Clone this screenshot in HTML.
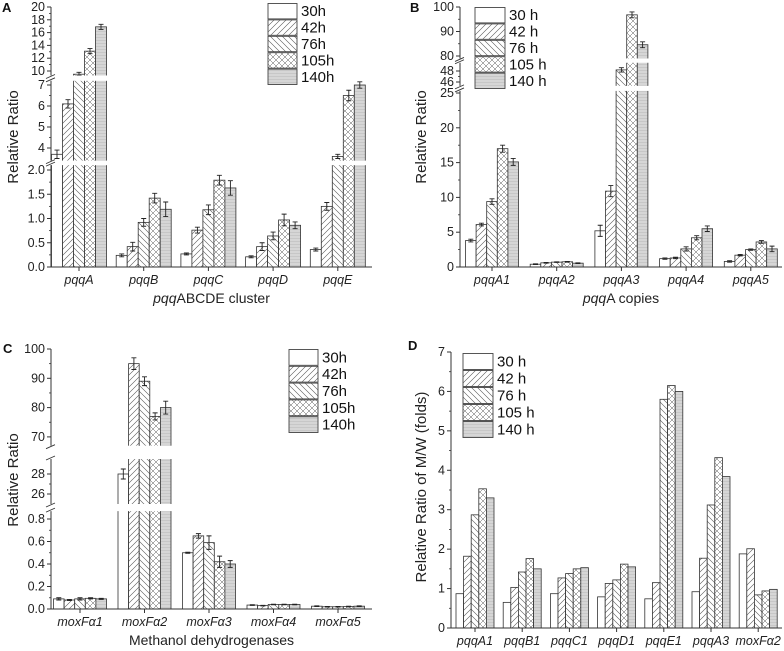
<!DOCTYPE html>
<html><head><meta charset="utf-8"><style>
html,body{margin:0;padding:0;background:#fff;}
svg{display:block;font-family:"Liberation Sans",Arial,sans-serif;}
</style></head><body>
<svg id="fig" width="784" height="651" viewBox="0 0 784 651" xmlns="http://www.w3.org/2000/svg">
<defs>
<pattern id="p42" patternUnits="userSpaceOnUse" width="6" height="6"><rect width="6" height="6" fill="#fff"/><path d="M-1,7 L7,-1 M-4,4 L4,-4 M2,10 L10,2" stroke="#555" stroke-width="0.6"/></pattern>
<pattern id="p76" patternUnits="userSpaceOnUse" width="6" height="6"><rect width="6" height="6" fill="#fff"/><path d="M-1,-1 L7,7 M-4,2 L4,10 M2,-4 L10,4" stroke="#555" stroke-width="0.6"/></pattern>
<pattern id="p105" patternUnits="userSpaceOnUse" width="6" height="6"><rect width="6" height="6" fill="#fff"/><path d="M-1,7 L7,-1 M-4,4 L4,-4 M2,10 L10,2 M-1,-1 L7,7 M-4,2 L4,10 M2,-4 L10,4" stroke="#555" stroke-width="0.5"/></pattern>
<pattern id="p140" patternUnits="userSpaceOnUse" width="4" height="3"><rect width="4" height="3" fill="#d6d6d6"/><path d="M0,1.5 L4,1.5" stroke="#c4c4c4" stroke-width="0.8"/></pattern>
</defs>
</svg>
<script>
// ---- Panel A data ----
const catsA = ["pqqA","pqqB","pqqC","pqqD","pqqE"];
const valsA30 = [3.7,0.24,0.27,0.21,0.36];
const valsA42 = [6.1,0.42,0.76,0.42,1.25];
const valsA76 = [9.5,0.92,1.18,0.64,3.6];
const valsA105 = [13.1,1.42,1.79,0.97,6.5];
const valsA140 = [16.9,1.19,1.63,0.86,7.0];
const errA30 = [0.2,0.03,0.02,0.02,0.03];
const errA42 = [0.2,0.09,0.06,0.08,0.08];
const errA76 = [0.3,0.08,0.1,0.08,0.1];
const errA105 = [0.4,0.1,0.1,0.12,0.25];
const errA140 = [0.4,0.15,0.15,0.07,0.15];
const ticksA = [[0,0.5,1,1.5,2],[4,5,6,7],[10,12,14,16,18,20]];
// ---- Panel B data ----
const catsB = ["pqqA1","pqqA2","pqqA3","pqqA4","pqqA5"];
const valsB30 = [3.8,0.4,5.2,1.2,0.8];
const valsB42 = [6.1,0.6,10.9,1.3,1.7];
const valsB76 = [9.4,0.7,48.2,2.6,2.5];
const valsB105 = [17.0,0.75,96.8,4.2,3.6];
const valsB140 = [15.1,0.55,84.6,5.5,2.6];
const errB30 = [0.2,0.05,0.8,0.1,0.1];
const errB42 = [0.2,0.05,0.8,0.1,0.1];
const errB76 = [0.4,0.05,0.4,0.3,0.1];
const errB105 = [0.5,0.05,1.2,0.3,0.2];
const errB140 = [0.5,0.05,1.2,0.4,0.4];
const ticksB = [[0,5,10,15,20,25],[46,48],[80,90,100]];
// ---- Panel C data ----
const catsC = ["moxFα1","moxFα2","moxFα3","moxFα4","moxFα5"];
const valsC30 = [0.09,28,0.5,0.035,0.025];
const valsC42 = [0.08,95,0.65,0.03,0.02];
const valsC76 = [0.09,89,0.59,0.04,0.02];
const valsC105 = [0.095,77,0.42,0.04,0.022];
const valsC140 = [0.09,80,0.40,0.04,0.025];
const errC30 = [0.01,0.5,0.005,0.003,0.003];
const errC42 = [0.005,2,0.02,0.003,0.003];
const errC76 = [0.01,1.5,0.06,0.003,0.003];
const errC105 = [0.005,1.2,0.05,0.003,0.003];
const errC140 = [0.005,2.2,0.03,0.003,0.003];
const ticksC = [[0,0.2,0.4,0.6,0.8],[26,28],[70,80,90,100]];
// ---- Panel D data ----
const catsD = ["pqqA1","pqqB1","pqqC1","pqqD1","pqqE1","pqqA3","moxFα2"];
const valsD30 = [0.87,0.65,0.87,0.79,0.74,0.92,1.88];
const valsD42 = [1.82,1.03,1.27,1.13,1.15,1.77,2.01];
const valsD76 = [2.87,1.42,1.38,1.22,5.8,3.12,0.84];
const valsD105 = [3.53,1.76,1.5,1.62,6.15,4.32,0.94];
const valsD140 = [3.3,1.5,1.53,1.55,6.0,3.84,0.98];
const ticksD = [[0,1,2,3,4,5,6,7]];

const NS="http://www.w3.org/2000/svg";
const svg=document.getElementById('fig');
const fills=["#fff","url(#p42)","url(#p76)","url(#p105)","url(#p140)"];
function mk(tag,attrs,parent){const e=document.createElementNS(NS,tag);for(const k in attrs)e.setAttribute(k,attrs[k]);(parent||svg).appendChild(e);return e;}
function txt(s,attrs,parent){const e=mk('text',attrs,parent);e.textContent=s;return e;}

function drawPanel(p){
  const g=mk('g',{});
  
  
  const segs=p.segs;
  function yOf(v){
    for(let i=0;i<segs.length;i++){const s=segs[i];
      if(v<=s.hi||i===segs.length-1){ if(v<s.lo) v=s.lo; const vv=Math.min(v,s.hi);
        return s.y0-(vv-s.v0)*s.k;}
    }
  }
  const base=segs[0].y0-(0-segs[0].v0)*segs[0].k;
  const n=p.cats.length;
  for(let c=0;c<n;c++){
    const cx=p.x0+c*p.sp;
    for(let s=0;s<5;s++){
      const v=p.series[s][c];
      const x=cx-2.5*p.bw+s*p.bw;
      const y=yOf(v);
      const r=mk('rect',{x:x,y:y,width:p.bw,height:base-y,fill:fills[s],stroke:'#333','stroke-width':0.8},g);
      
      
      if(p.errs){const e=p.errs[s][c];const xm=x+p.bw/2;
        const y1=yOf(v+e),y2=yOf(v-e);
        mk('path',{d:`M${xm},${y1}V${y2}M${xm-2.5},${y1}H${xm+2.5}M${xm-2.5},${y2}H${xm+2.5}`,stroke:'#222','stroke-width':0.9,fill:'none'},g);}
    }
  }
  for(let i=0;i<segs.length-1;i++){
    const yb=segs[i].y0-(segs[i].hi-segs[i].v0)*segs[i].k;
    const yt=segs[i+1].y0-(segs[i+1].lo-segs[i+1].v0)*segs[i+1].k;
    mk('rect',{x:p.ax-6,y:yt,width:p.xEnd-p.ax+6,height:yb-yt,fill:'#fff'},g);
    mk('path',{d:`M${p.ax-5},${yb+1}L${p.ax+4},${yb-3}M${p.ax-5},${yt+3}L${p.ax+4},${yt-1}`,stroke:'#333','stroke-width':0.9},g);
  }
  for(let i=0;i<segs.length;i++){
    const s=segs[i];
    const ya=s.y0-(s.lo-s.v0)*s.k, yb=s.y0-(s.hi-s.v0)*s.k;
    mk('line',{x1:p.ax,y1:ya,x2:p.ax,y2:yb,stroke:'#333','stroke-width':1},g);
    const tk=p.ticks[i];
    tk.forEach((t,j)=>{const y=s.y0-(t-s.v0)*s.k;
      mk('line',{x1:p.ax-4,y1:y,x2:p.ax,y2:y,stroke:'#333','stroke-width':1},g);
      if(j<tk.length-1){const ym=s.y0-((t+tk[j+1])/2-s.v0)*s.k;
        mk('line',{x1:p.ax-2,y1:ym,x2:p.ax,y2:ym,stroke:'#333','stroke-width':0.8},g);}
      txt(t.toFixed(p.dec[i]),{x:p.ax-6,y:y+4,'text-anchor':'end','font-size':12.5,fill:'#222'},g);});
  }
  const xa=mk('line',{x1:p.ax,y1:base,x2:p.xEnd,y2:base,stroke:'#333','stroke-width':1},g);
  
  
  for(let c=0;c<n;c++){const cx=p.x0+c*p.sp;
    mk('line',{x1:cx,y1:base,x2:cx,y2:base+4,stroke:'#333'},g);
    const t=txt(p.cats[c],{x:cx,y:base+17,'text-anchor':'middle','font-size':12.5,'font-style':'italic',fill:'#222'},g);
    
    }
  if(p.xtitle){const t=mk('text',{x:(p.ax+p.xEnd)/2,y:base+36,'text-anchor':'middle','font-size':14,fill:'#222'},g);
    t.innerHTML=p.xtitle;
    
    }
  const yt=txt(p.ytitle,{x:p.ytx,y:p.yty,'text-anchor':'middle','font-size':15,fill:'#222',transform:`rotate(-90 ${p.ytx} ${p.yty})`},g);
  
  
  const pl=txt(p.letter,{x:p.lx,y:p.ly,'font-size':13,'font-weight':'bold',fill:'#111'},g);
  
  
  const lh=(p.leg.y1-p.leg.y0)/5;
  for(let s=0;s<5;s++){
    const lg=mk('g',{},g);
    
    
    mk('rect',{x:p.leg.x,y:p.leg.y0+s*lh+0.5,width:p.leg.w,height:lh-1,fill:fills[s],stroke:'#444','stroke-width':0.9},lg);
    txt(p.labels[s],{x:p.leg.x+p.leg.w+4,y:p.leg.y0+s*lh+lh/2+5,'font-size':15,fill:'#111'},lg);
  }
}

drawPanel({name:'panel-a',letter:'A',lx:2,ly:12,ax:51,xEnd:372,x0:79,sp:64.7,bw:11,
  cats:catsA,series:[valsA30,valsA42,valsA76,valsA105,valsA140],errs:[errA30,errA42,errA76,errA105,errA140],
  segs:[{lo:0,hi:2.1,v0:0,y0:267,k:48.5},{lo:3.4,hi:7.2,v0:4,y0:148,k:21},{lo:9.3,hi:20,v0:10,y0:71,k:6.4}],
  ticks:ticksA,dec:[1,0,0],labels:["30h","42h","76h","105h","140h"],
  xtitle:'<tspan font-style="italic">pqq</tspan>ABCDE cluster',ytitle:'Relative Ratio',ytx:18,yty:137,
  leg:{x:268,w:29,y0:3,y1:85}});
drawPanel({name:'panel-b',letter:'B',lx:410,ly:12,ax:460,xEnd:782,x0:492,sp:64.7,bw:10.6,
  cats:catsB,series:[valsB30,valsB42,valsB76,valsB105,valsB140],errs:[errB30,errB42,errB76,errB105,errB140],
  segs:[{lo:0,hi:25.3,v0:0,y0:267,k:6.96},{lo:45.3,hi:49.5,v0:48,y0:71,k:5.5},{lo:79,hi:100,v0:100,y0:7,k:2.45}],
  ticks:ticksB,dec:[0,0,0],labels:["30 h","42 h","76 h","105 h","140 h"],
  xtitle:'<tspan font-style="italic">pqq</tspan>A copies',ytitle:'Relative Ratio',ytx:426,yty:137,
  leg:{x:475,w:30,y0:7,y1:89}});
drawPanel({name:'panel-c',letter:'C',lx:3,ly:353,ax:51,xEnd:372,x0:80,sp:64.5,bw:10.6,
  cats:catsC,series:[valsC30,valsC42,valsC76,valsC105,valsC140],errs:[errC30,errC42,errC76,errC105,errC140],
  segs:[{lo:0,hi:0.87,v0:0,y0:609,k:112.5},{lo:25,hi:29.5,v0:28,y0:474,k:10},{lo:67,hi:100,v0:100,y0:349,k:2.93}],
  ticks:ticksC,dec:[1,0,0],labels:["30h","42h","76h","105h","140h"],
  xtitle:'Methanol dehydrogenases',ytitle:'Relative Ratio',ytx:18,yty:480,
  leg:{x:289,w:29,y0:349,y1:433}});
drawPanel({name:'panel-d',letter:'D',lx:408,ly:350,ax:451,xEnd:782,x0:475,sp:47.2,bw:7.6,
  cats:catsD,series:[valsD30,valsD42,valsD76,valsD105,valsD140],errs:null,
  segs:[{lo:0,hi:7,v0:0,y0:628,k:39.43}],
  ticks:ticksD,dec:[0],labels:["30 h","42 h","76 h","105 h","140 h"],
  xtitle:null,ytitle:'Relative Ratio of M/W (folds)',ytx:426,yty:487,
  leg:{x:463,w:30,y0:353,y1:438}});
</script>
</body></html>
